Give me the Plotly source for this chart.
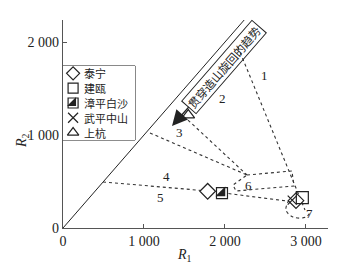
import plotly.graph_objects as go

# ---- data ----
x_ticks = [0, 1000, 2000, 3000]
x_ticklabels = ["0", "1 000", "2 000", "3 000"]
y_ticks = [0, 1000, 2000]
y_ticklabels = ["0", "1 000", "2 000"]

taining_r1 = [1786, 2877]
taining_r2 = [395, 294]
jianou_r1 = [2955]
jianou_r2 = [326]
zhangping_r1 = [1963]
zhangping_r2 = [376]
wuping_r1 = [2830]
wuping_r2 = [300]
shanghang_r1 = [1547]
shanghang_r2 = [1215]

series_names = ["泰宁", "建瓯", "漳平白沙", "武平中山", "上杭"]

# R1 = R2 reference line
diag_r1 = [0, 2300]
diag_r2 = [0, 2300]

# field boundaries (dotted)
line_a_r1 = [2160, 2790, 2926, 2988]
line_a_r2 = [1946, 602, 323, 194]
line_b_r1 = [1543, 2272]
line_b_r2 = [1161, 570]
line_c_r1 = [1074, 2272]
line_c_r2 = [1022, 570]
field6_r1 = [2272, 2827, 2852, 2136, 2099, 2272]
field6_r2 = [570, 613, 452, 398, 462, 570]
line_d_r1 = [494, 1790, 2864]
line_d_r2 = [495, 398, 280]
field7_r1 = [2790, 2753, 2840, 3000, 3062]
field7_r2 = [301, 194, 118, 118, 183]

field_labels = ["1", "2", "3", "4", "5", "6", "7"]
field_label_r1 = [2494, 1975, 1444, 1284, 1198, 2296, 3049]
field_label_r2 = [1645, 1398, 1022, 559, 323, 462, 161]

trend_text = "贯穿造山旋回的趋势"

# ---- figure ----
X_MAX, Y_MAX = 3272, 2237
serif = "Liberation Serif"
cjk = "Noto Sans CJK SC"
ink = "#222222"

fig = go.Figure()

fig.add_trace(go.Scatter(x=diag_r1, y=diag_r2, mode="lines",
                         line=dict(color=ink, width=1), showlegend=False, hoverinfo="skip"))

dotted = dict(color="#333333", width=1.1, dash="dot")
for xs, ys, shape in [(line_a_r1, line_a_r2, "linear"), (line_b_r1, line_b_r2, "linear"),
                      (line_c_r1, line_c_r2, "linear"), (field6_r1, field6_r2, "linear"),
                      (line_d_r1, line_d_r2, "linear"), (field7_r1, field7_r2, "spline")]:
    fig.add_trace(go.Scatter(x=xs, y=ys, mode="lines", line=dict(shape=shape, **dotted),
                             showlegend=False, hoverinfo="skip"))

mk_line = dict(color=ink, width=1.2)
fig.add_trace(go.Scatter(x=taining_r1, y=taining_r2, mode="markers", showlegend=False,
                         marker=dict(symbol="diamond", size=12, color="white", line=mk_line)))
fig.add_trace(go.Scatter(x=jianou_r1, y=jianou_r2, mode="markers", showlegend=False,
                         marker=dict(symbol="square-open", size=12, color=ink, line=mk_line)))
fig.add_trace(go.Scatter(x=zhangping_r1, y=zhangping_r2, mode="markers", showlegend=False,
                         marker=dict(symbol="square", size=11, color="white", line=mk_line)))
fig.add_trace(go.Scatter(x=zhangping_r1, y=zhangping_r2, mode="markers", showlegend=False,
                         marker=dict(symbol="triangle-se", size=11, color=ink, line=dict(width=0))))
fig.add_trace(go.Scatter(x=wuping_r1, y=wuping_r2, mode="markers", showlegend=False,
                         marker=dict(symbol="x-thin-open", size=9, color=ink, line=mk_line)))
fig.add_trace(go.Scatter(x=shanghang_r1, y=shanghang_r2, mode="markers", showlegend=False,
                         marker=dict(symbol="triangle-up-open", size=11, color=ink, line=mk_line)))

# ---- manual legend on a hidden overlay axis ----
n = len(series_names)
rows = [n - 0.5 - i for i in range(n)]
legend_syms = ["diamond", "square-open", "square", "x-thin-open", "triangle-up-open"]
for i, name in enumerate(series_names):
    sym = legend_syms[i]
    fig.add_trace(go.Scatter(x=[0.7], y=[rows[i]], xaxis="x2", yaxis="y2", mode="markers",
                             showlegend=False, hoverinfo="skip",
                             marker=dict(symbol=sym, size=10, color="white" if sym in ("diamond", "square") else ink,
                                         line=mk_line)))
    if i == 2:
        fig.add_trace(go.Scatter(x=[0.7], y=[rows[i]], xaxis="x2", yaxis="y2", mode="markers",
                                 showlegend=False, hoverinfo="skip",
                                 marker=dict(symbol="triangle-se", size=10, color=ink, line=dict(width=0))))
    fig.add_annotation(x=1.35, y=rows[i], xref="x2", yref="y2", text=name, showarrow=False,
                       xanchor="left", yanchor="middle", font=dict(family=cjk, size=11, color=ink))

fig.add_shape(type="rect", xref="paper", yref="paper", x0=0, x1=0.272, y0=0.423, y1=0.779,
              line=dict(color=ink, width=1), fillcolor="white", layer="below")

# field numbers
for t, xv, yv in zip(field_labels, field_label_r1, field_label_r2):
    fig.add_annotation(x=xv, y=yv, text=t, showarrow=False,
                       font=dict(family=serif, size=13, color=ink))

# trend arrow band
fig.add_annotation(x=1346, y=1097, ax=52, ay=-59, text=trend_text, textangle=-49,
                   showarrow=True, arrowhead=2, arrowsize=2.2, arrowwidth=1.4, arrowcolor=ink,
                   bordercolor=ink, borderwidth=1, borderpad=1,
                   font=dict(family=cjk, size=11.5, color=ink))

# axis titles
fig.add_annotation(x=-0.155, y=0.423, xref="paper", yref="paper", text="<i>R</i><sub>2</sub>",
                   showarrow=False, textangle=-90, xanchor="center", yanchor="middle",
                   font=dict(family=serif, size=14, color=ink))
fig.add_annotation(x=0.46, y=-0.13, xref="paper", yref="paper", text="<i>R</i><sub>1</sub>",
                   showarrow=False, xanchor="center", yanchor="middle",
                   font=dict(family=serif, size=14, color=ink))

axis_common = dict(showgrid=False, zeroline=False, showline=True, linecolor="#555555", linewidth=1.3,
                   ticks="inside", ticklen=4, tickcolor="#555555",
                   tickfont=dict(family=serif, size=14, color=ink))

fig.update_layout(
    width=337, height=266,
    margin=dict(l=63, r=9, t=20, b=38),
    paper_bgcolor="white", plot_bgcolor="white",
    showlegend=False,
    hovermode=False,
    xaxis=dict(range=[0, X_MAX], tickvals=x_ticks, ticktext=x_ticklabels, **axis_common),
    yaxis=dict(range=[0, Y_MAX], tickvals=y_ticks, ticktext=y_ticklabels, **axis_common),
    xaxis2=dict(domain=[0, 0.272], range=[0, 5], anchor="y2", visible=False, fixedrange=True),
    yaxis2=dict(domain=[0.423, 0.779], range=[0, n], anchor="x2", visible=False, fixedrange=True),
)

fig.write_html("out.html", config={"displayModeBar": False},
               post_script="document.body.style.margin='0';document.body.style.overflow='hidden';")
